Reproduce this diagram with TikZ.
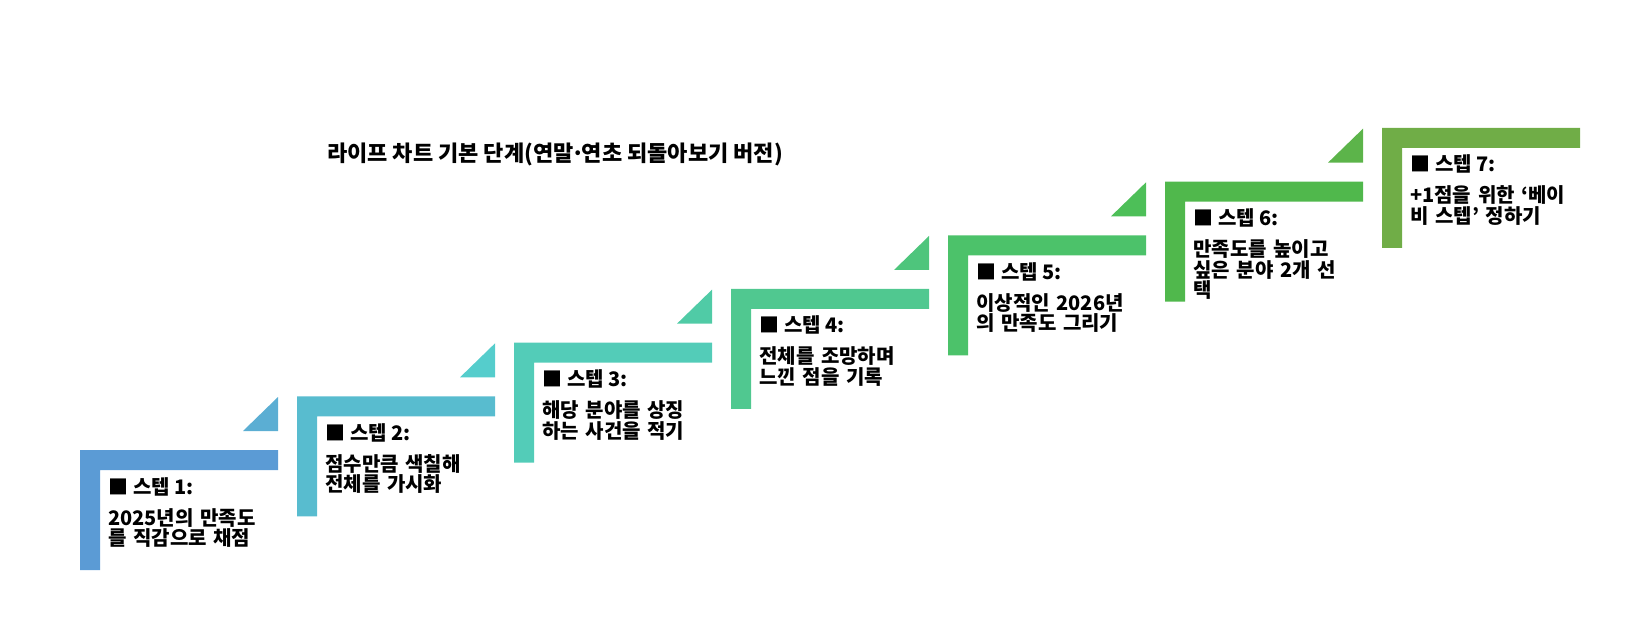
\documentclass[tikz,border=0pt]{standalone}
\usepackage{fontspec}
\setmainfont{Noto Sans CJK KR}
\definecolor{c1}{HTML}{5B9BD5}\definecolor{t1}{HTML}{5BAED3}
\definecolor{c2}{HTML}{58BCCF}\definecolor{t2}{HTML}{55CDCC}
\definecolor{c3}{HTML}{53CCB8}\definecolor{t3}{HTML}{50CBA6}
\definecolor{c4}{HTML}{50C890}\definecolor{t4}{HTML}{4EC57C}
\definecolor{c5}{HTML}{4CC26A}\definecolor{t5}{HTML}{4DBF58}
\definecolor{c6}{HTML}{50B84C}\definecolor{t6}{HTML}{5CB44A}
\definecolor{c7}{HTML}{70AD47}
\tikzset{
  head/.style={anchor=base west,inner sep=0pt,font=\bfseries\fontsize{20}{22}\selectfont},
  body/.style={anchor=base west,inner sep=0pt,text width=220pt,align=left,font=\bfseries\fontsize{20}{20.5}\selectfont},
  titletext/.style={anchor=base west,inner sep=0pt,font=\bfseries\fontsize{22}{24}\selectfont}
}
\begin{document}
\begin{tikzpicture}[x=1pt,y=-1pt]
\useasboundingbox (0,0) rectangle (1626,630);
\node[titletext] (title) at (327,161) {라이프 차트 기본 단계(연말\kern-.12em·\kern-.12em연초 되돌아보기 버전)};
\foreach \i/\txt in {1/{2025년의 만족도\\를 직감으로 채점},
                     2/{점수만큼 색칠해\\전체를 가시화},
                     3/{해당 분야를 상징\\하는 사건을 적기},
                     4/{전체를 조망하며\\느낀 점을 기록},
                     5/{이상적인 2026년\\의 만족도 그리기},
                     6/{만족도를 높이고\\싶은 분야 2개 선\\택},
                     7/{+1점을 위한 ‘베이\\비 스텝’ 정하기}}{
  \pgfmathsetmacro{\L}{80+217*(\i-1)}
  \pgfmathsetmacro{\T}{450-53.67*(\i-1)}
  \fill[c\i] (\L,\T) -- ++(198,0) -- ++(0,20) -- ++(-178,0) -- ++(0,100) -- ++(-20,0) -- cycle;
  \ifnum\i<7
    \fill[t\i] (\L+198,\T-53) -- (\L+198,\T-19) -- (\L+163,\T-19) -- cycle;
  \fi
  \node[head] (h\i) at (\L+28,\T+44) {■\kern.25em 스텝 \i:};
  \node[body] (b\i) at (\L+28,\T+75) {\txt};
}
\end{tikzpicture}
\end{document}
